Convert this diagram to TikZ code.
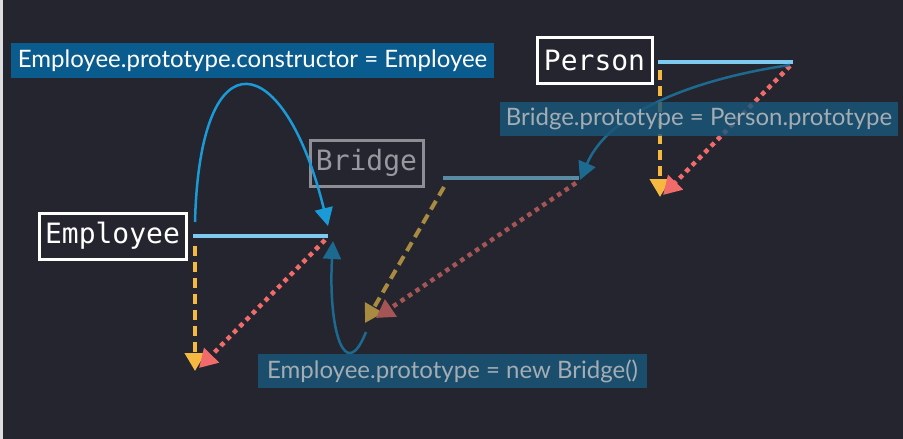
\documentclass[tikz,border=0pt]{standalone}
\usepackage{fontspec}
\setmainfont{Lato}
\setmonofont{DejaVu Sans Mono}
\usetikzlibrary{arrows.meta}
\definecolor{bg}{HTML}{24252F}
\definecolor{toplab}{HTML}{0B5C8E}
\definecolor{lowlab}{HTML}{1A577A}
\definecolor{lowtxt}{HTML}{A3ADB3}
\definecolor{linelight}{HTML}{7DC9EF}
\definecolor{linebridge}{HTML}{5B8AA3}
\definecolor{ylw}{HTML}{F5B942}
\definecolor{ylwdark}{HTML}{A88A40}
\definecolor{rd}{HTML}{F26B6B}
\definecolor{rddark}{HTML}{A55555}
\definecolor{arcbright}{HTML}{1A9AD6}
\definecolor{arcdark}{HTML}{1D6A90}
\definecolor{bridgegray}{HTML}{8D8D93}
\tikzset{
  classbox/.style={draw=white, line width=3pt, font=\ttfamily\fontsize{28}{30}\selectfont, text=white, inner sep=0pt, minimum height=46pt},
  protoline/.style={line width=3.5pt},
  yarrow/.style={line width=4pt, dash pattern=on 10pt off 6pt, -{Triangle[length=18pt,width=20pt]}},
  rarrow/.style={line width=4.5pt, dash pattern=on 4.5pt off 4.5pt, -{Triangle[length=18pt,width=20pt]}},
  arcarrow/.style={line width=2.5pt, -{Triangle[length=18pt,width=18pt]}},
  lowlabel/.style={fill=lowlab, fill opacity=0.82, text opacity=1, text=lowtxt, inner sep=0pt, minimum height=34pt, font=\fontsize{24}{26}\selectfont},
}
\begin{document}
\begin{tikzpicture}[x=1pt,y=-1pt]
\fill[bg] (0,0) rectangle (903,439);
\fill[white!85!bg] (0,0) rectangle (3,439);
\useasboundingbox (0,0) rectangle (903,439);

% class boxes
\node[classbox, minimum width=115pt] (person) at (594.5,60.5) {Person};
\node[classbox, minimum width=147pt] (employee) at (112.5,236) {Employee};
\node[classbox, minimum width=113pt, draw=bridgegray, text=bridgegray!90!white] (bridge) at (366.5,163) {Bridge};

% coordinates
\coordinate (pL) at (658,62);
\coordinate (pR) at (793,62);
\coordinate (pY0) at (660,70);
\coordinate (pY1) at (660,197);
\coordinate (pR0) at (790,66);
\coordinate (pR1) at (663,195);

\coordinate (bL) at (443,178);
\coordinate (bR) at (579,178);
\coordinate (bY0) at (444,187);
\coordinate (bY1) at (365,323);
\coordinate (bR0) at (576,183);
\coordinate (bR1) at (376,318);

\coordinate (eL) at (193,236);
\coordinate (eR) at (328,236);
\coordinate (eY0) at (195,246);
\coordinate (eY1) at (195,371);
\coordinate (eR0) at (325,240);
\coordinate (eR1) at (199,368);

\coordinate (a1s) at (195,222);
\coordinate (a1e) at (328,226);
\coordinate (a2s) at (790,65);
\coordinate (a2e) at (580,180);
\coordinate (a3s) at (366,332);
\coordinate (a3e) at (333,241);

% prototype lines
\draw[protoline, linelight] (pL) -- (pR);
\draw[protoline, linebridge] (bL) -- (bR);
\draw[protoline, linelight] (eL) -- (eR);

% dashed / dotted arrows
\draw[yarrow, ylw] (pY0) -- (pY1);
\draw[rarrow, rd] (pR0) -- (pR1);
\draw[yarrow, ylwdark] (bY0) -- (bY1);
\draw[rarrow, rddark] (bR0) -- (bR1);
\draw[yarrow, ylw] (eY0) -- (eY1);
\draw[rarrow, rd] (eR0) -- (eR1);

% arcs
\draw[arcarrow, arcbright] (a1s) .. controls (200,30) and (285,50) .. (a1e);
\draw[arcarrow, arcdark] (a2s) .. controls (700,78) and (610,110) .. (a2e);
\draw[arcarrow, arcdark] (a3s) .. controls (345,385) and (328,330) .. (a3e);

% labels
\node[fill=toplab, text=white, inner sep=0pt, minimum width=483pt, minimum height=35pt, font=\fontsize{24}{26}\selectfont] (lab1) at (252.5,60.5) {Employee.prototype.constructor = Employee};
\node[lowlabel, minimum width=398pt] (lab2) at (699,118.5) {Bridge.prototype = Person.prototype};
\node[lowlabel, minimum width=389pt] (lab3) at (452.5,371) {Employee.prototype = new Bridge()};
\end{tikzpicture}
\end{document}
